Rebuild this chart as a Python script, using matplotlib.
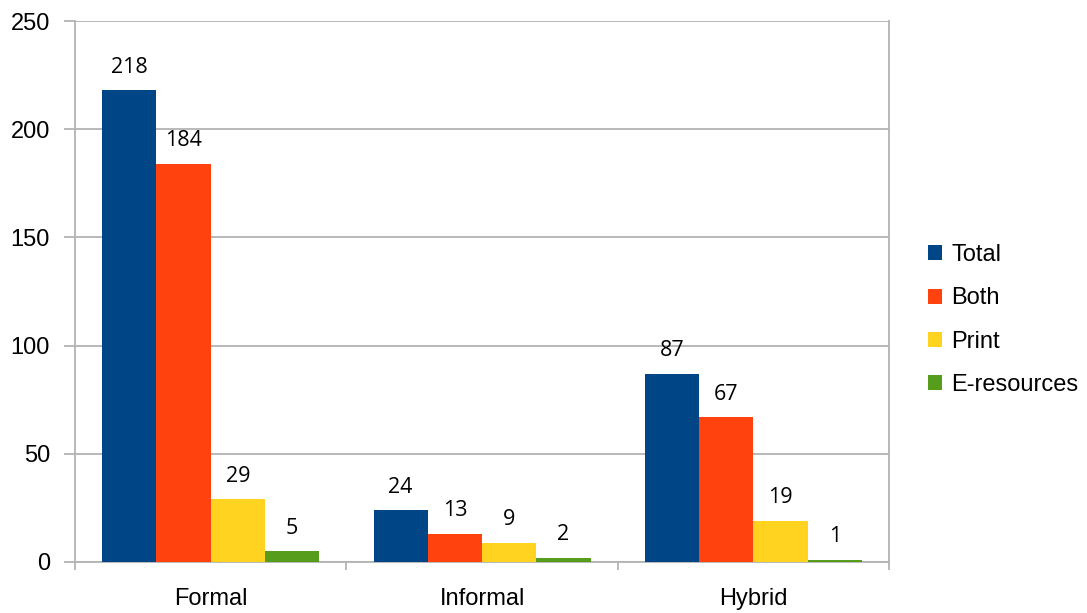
import numpy as np
import matplotlib.pyplot as plt

# categories and series
groups = ["Formal", "Informal", "Hybrid"]
series = ["Total", "Both", "Print", "E-resources"]
total = [218, 24, 87]
both = [184, 13, 67]
printed = [29, 9, 19]
eres = [5, 2, 1]
colors = ["#004586", "#ff420e", "#ffd320", "#579d1c"]

plt.rcParams["font.family"] = ["Liberation Sans", "DejaVu Sans"]

fig = plt.figure(figsize=(10.87, 6.13), dpi=100)
ax = fig.add_axes([0.069, 0.0832, 0.749, 0.8825])

x = np.arange(len(groups))
width = 0.2
for k, (name, vals) in enumerate(zip(series, [total, both, printed, eres])):
    pos = x - 0.3 + k * width
    bars = ax.bar(pos, vals, width, color=colors[k], label=name, zorder=3)
    for b, v in zip(bars, vals):
        ax.annotate(str(v), (b.get_x() + b.get_width() / 2, v),
                    xytext=(0, 9), textcoords="offset points",
                    ha="center", va="bottom", fontsize=15.5,
                    family=["Open Sans", "DejaVu Sans"])

ax.set_xlim(-0.5, 2.5)
ax.set_ylim(0, 250)
ax.set_yticks(range(0, 251, 50))
ax.yaxis.grid(True, color="#b3b3b3", linewidth=1.3, zorder=0)

# category boundaries as ticks, labels centered in between
ax.set_xticks([-0.5, 0.5, 1.5, 2.5])
ax.set_xticklabels([])
ax.set_xticks(x, minor=True)
ax.set_xticklabels(groups, minor=True)
ax.tick_params(axis="x", which="minor", length=0, pad=19, labelsize=17)
ax.tick_params(axis="x", which="major", length=6, color="#b3b3b3", width=1.3)
ax.tick_params(axis="y", length=8, color="#b3b3b3", width=1.3, labelsize=17, pad=10)

for side in ["left", "right", "bottom"]:
    ax.spines[side].set_color("#b3b3b3")
    ax.spines[side].set_linewidth(1.3)
ax.spines["top"].set_visible(False)

fig.legend(loc="center left", bbox_to_anchor=(0.845, 0.478), frameon=False,
           fontsize=17, handlelength=0.6, handleheight=0.6, handletextpad=0.4,
           labelspacing=0.9, borderaxespad=0)

fig.savefig("out.png", dpi=100)
